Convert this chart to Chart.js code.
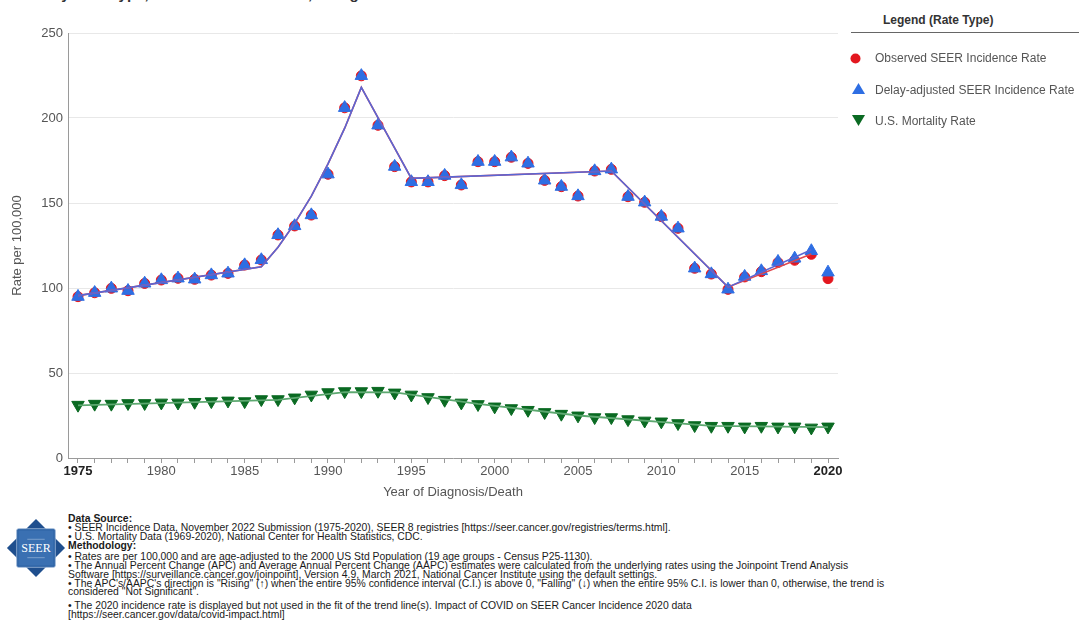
<!DOCTYPE html>
<html>
<head>
<meta charset="utf-8">
<script src="https://cdn.jsdelivr.net/npm/chart.js@4.4.1/dist/chart.umd.min.js"></script>
<style>
html,body{margin:0;padding:0;background:#fff;width:1079px;height:623px;overflow:hidden;font-family:"Liberation Sans",Arial,sans-serif;}
#title{position:absolute;left:-12px;top:-14px;font-size:15px;line-height:15px;font-weight:bold;color:#333;white-space:nowrap;}
#chartWrap{position:absolute;left:0;top:0;width:850px;height:500px;}
#legendTitle{position:absolute;left:883px;top:13px;font-size:12px;line-height:14px;font-weight:bold;color:#333;white-space:nowrap;}
#legendRule{position:absolute;left:851px;top:32px;width:228px;height:1px;background:#666;}
.li{position:absolute;left:875px;font-size:12px;line-height:14px;color:#555;white-space:nowrap;}
.mk{position:absolute;}
.fl{position:absolute;left:68px;font-size:10.4px;line-height:10px;color:#1a1a1a;white-space:nowrap;}
.fl.b{font-weight:bold;}
#logo{position:absolute;left:6px;top:518px;width:60px;height:60px;}
</style>
</head>
<body>
<div id="title">Prostate by Rate Type, All Races / Ethnicities, All Ages</div>
<div id="chartWrap"><canvas id="c" width="850" height="500"></canvas></div>

<div id="legendTitle">Legend (Rate Type)</div>
<div id="legendRule"></div>
<svg class="mk" style="left:849px;top:52px" width="13" height="13"><circle cx="6.5" cy="6.5" r="5" fill="#e3171f"/></svg>
<div class="li" style="top:51px">Observed SEER Incidence Rate</div>
<svg class="mk" style="left:851px;top:82px" width="15" height="13"><polygon points="7.5,1 14,12 1,12" fill="#2e6ee3"/></svg>
<div class="li" style="top:83px">Delay-adjusted SEER Incidence Rate</div>
<svg class="mk" style="left:851px;top:114px" width="15" height="13"><polygon points="1,1 14,1 7.5,12" fill="#0a6a22"/></svg>
<div class="li" style="top:114px">U.S. Mortality Rate</div>

<svg id="logo" viewBox="0 0 62 62">
  <polygon points="31,1 61,31 31,61 1,31" fill="#1f4f8e"/>
  <rect x="11" y="11" width="40" height="40" rx="2" fill="#2f64a6" stroke="#9fb8d8" stroke-width="0.8"/>
  <rect x="13" y="13" width="36" height="36" fill="#3a70b2"/>
  <line x1="22" y1="22" x2="40" y2="22" stroke="#a9c0de" stroke-width="0.6"/>
  <line x1="22" y1="41" x2="40" y2="41" stroke="#a9c0de" stroke-width="0.6"/>
  <text x="31" y="35.5" text-anchor="middle" font-family="Liberation Serif, serif" font-size="12.5" fill="#ffffff">SEER</text>
</svg>

<div class="fl b" style="top:514px">Data Source:</div>
<div class="fl" style="top:523px">• SEER Incidence Data, November 2022 Submission (1975-2020), SEER 8 registries [https://seer.cancer.gov/registries/terms.html].</div>
<div class="fl" style="top:532px">• U.S. Mortality Data (1969-2020), National Center for Health Statistics, CDC.</div>
<div class="fl b" style="top:541px">Methodology:</div>
<div class="fl" style="top:552px">• Rates are per 100,000 and are age-adjusted to the 2000 US Std Population (19 age groups - Census P25-1130).</div>
<div class="fl" style="top:561px">• The Annual Percent Change (APC) and Average Annual Percent Change (AAPC) estimates were calculated from the underlying rates using the Joinpoint Trend Analysis</div>
<div class="fl" style="top:570px">Software [https://surveillance.cancer.gov/joinpoint], Version 4.9, March 2021, National Cancer Institute using the default settings.</div>
<div class="fl" style="top:579px">• The APC's/AAPC's direction is "Rising" (↑) when the entire 95% confidence interval (C.I.) is above 0, "Falling" (↓) when the entire 95% C.I. is lower than 0, otherwise, the trend is</div>
<div class="fl" style="top:587px">considered "Not Significant".</div>
<div class="fl" style="top:601px">• The 2020 incidence rate is displayed but not used in the fit of the trend line(s). Impact of COVID on SEER Cancer Incidence 2020 data</div>
<div class="fl" style="top:610px">[https://seer.cancer.gov/data/covid-impact.html]</div>

<script>
const years = [1975,1976,1977,1978,1979,1980,1981,1982,1983,1984,
               1985,1986,1987,1988,1989,1990,1991,1992,1993,1994,
               1995,1996,1997,1998,1999,2000,2001,2002,2003,2004,
               2005,2006,2007,2008,2009,2010,2011,2012,2013,2014,
               2015,2016,2017,2018,2019,2020];

const delayAdjustedRate = [94.9,97.2,99.8,98.4,102.7,104.7,105.7,105.1,107.6,108.6,
                           113.5,116.5,131.2,136.5,142.9,166.9,206.0,224.8,195.7,171.4,
                           162.4,162.4,166.1,160.6,174.3,174.3,176.9,173.3,163.3,159.6,
                           154.1,168.8,169.8,153.7,150.4,142.0,135.1,111.6,108.2,99.2,
                           106.7,110.0,115.5,117.4,121.8,109.2];

const observedRate = [94.9,97.2,99.8,98.4,102.7,104.7,105.7,105.1,107.6,108.6,
                      113.5,116.5,131.2,136.5,142.9,166.9,206.0,224.8,195.7,171.4,
                      162.4,162.4,166.1,160.6,174.3,174.3,176.9,173.3,163.3,159.6,
                      154.1,168.8,169.8,153.7,150.4,142.0,135.1,111.6,108.2,99.2,
                      106.5,109.6,115.0,116.3,119.8,105.5];

const mortalityRate = [31.2,31.8,31.8,32.2,32.2,32.5,32.5,32.9,33.3,33.7,
                       33.3,34.5,34.5,35.5,37.2,38.6,39.2,39.2,39.4,38.4,
                       37.2,35.7,34.1,32.5,31.6,30.2,29.2,28.2,26.9,25.9,
                       24.9,23.9,23.9,22.7,21.9,21.4,20.4,19.2,18.8,18.8,
                       18.4,18.8,18.4,18.4,17.8,18.4];

const incTrendYears = [1975,1986,1987,1988,1989,1990,1991,1992,1995,2007,2014,2019];
const delayTrendRate = [95.5,112.5,124,138,154,173,194,218,164.5,168.8,100.5,122.5];
const observedTrendRate = [95.5,112.5,124,138,154,173,194,218,164.5,168.8,100.5,120.0];

const mortTrendYears = [1975,1987,1991,1994,1999,2005,2013,2020];
const mortTrendRate = [31.0,34.2,38.8,38.6,31.8,25.0,18.9,18.2];

const xLabelYears = [1975,1980,1985,1990,1995,2000,2005,2010,2015,2020];
const boldYears = [1975,2020];
const yTickValues = [0,50,100,150,200,250];

const FONT = '"Liberation Sans", Arial, sans-serif';
const pts = (xs, ys) => xs.map((x, i) => ({x: x, y: ys[i]}));

new Chart(document.getElementById('c'), {
  type: 'scatter',
  data: {
    datasets: [
      {label: 'Delay-adjusted trend', data: pts(incTrendYears, delayTrendRate), showLine: true,
       borderColor: '#5a66d4', borderWidth: 1.6, pointRadius: 0, fill: false},
      {label: 'Observed trend', data: pts(incTrendYears, observedTrendRate), showLine: true,
       borderColor: '#e0474d', borderWidth: 1.6, pointRadius: 0, fill: false},
      {label: 'Mortality trend', data: pts(mortTrendYears, mortTrendRate), showLine: true,
       borderColor: '#5da870', borderWidth: 1.8, pointRadius: 0, fill: false},
      {label: 'Delay-adjusted SEER Incidence Rate', data: pts(years, delayAdjustedRate), showLine: false,
       pointStyle: 'triangle', pointRadius: 7.2, pointBackgroundColor: '#2e6ee3', pointBorderColor: '#2e6ee3', pointBorderWidth: 1},
      {label: 'Observed SEER Incidence Rate', data: pts(years, observedRate), showLine: false,
       pointStyle: 'circle', pointRadius: 5, pointBackgroundColor: '#e3171f', pointBorderColor: '#e3171f', pointBorderWidth: 1},
      {label: 'U.S. Mortality Rate', data: pts(years, mortalityRate), showLine: false,
       pointStyle: 'triangle', pointRotation: 180, pointRadius: 7.2, pointBackgroundColor: '#0a6a22', pointBorderColor: '#0a6a22', pointBorderWidth: 1}
    ]
  },
  options: {
    responsive: false,
    animation: false,
    events: [],
    layout: {padding: {top: 33, right: 12, left: 0, bottom: 0}},
    plugins: {legend: {display: false}, tooltip: {enabled: false}},
    scales: {
      x: {
        type: 'linear', min: 1974.4, max: 2020.6,
        afterBuildTicks: s => { s.ticks = years.map(v => ({value: v})); },
        afterFit: s => { s.height = 42; },
        ticks: {
          autoSkip: false, maxRotation: 0, minRotation: 0, includeBounds: false, padding: 1,
          callback: v => xLabelYears.includes(v) ? String(v) : '',
          font: c => ({family: FONT, size: 13, weight: (c.tick && boldYears.includes(c.tick.value)) ? 'bold' : 'normal'}),
          color: c => (c.tick && boldYears.includes(c.tick.value)) ? '#222' : '#555'
        },
        grid: {display: true, drawOnChartArea: false, tickLength: 5, color: '#9a9a9a'},
        border: {color: '#9a9a9a'},
        title: {display: true, text: 'Year of Diagnosis/Death', color: '#555', font: {family: FONT, size: 13}, padding: {top: 6, bottom: 0}}
      },
      y: {
        min: 0, max: 250,
        afterBuildTicks: s => { s.ticks = yTickValues.map(v => ({value: v})); },
        afterFit: s => { s.width = 68; },
        ticks: {padding: 5, color: '#555', font: {family: FONT, size: 13}},
        grid: {color: '#e8e8e8', drawTicks: false},
        border: {color: '#9a9a9a'},
        title: {display: true, text: 'Rate per 100,000', color: '#555', font: {family: FONT, size: 13}, padding: {top: 10, bottom: 0}}
      }
    }
  }
});
</script>
</body>
</html>
